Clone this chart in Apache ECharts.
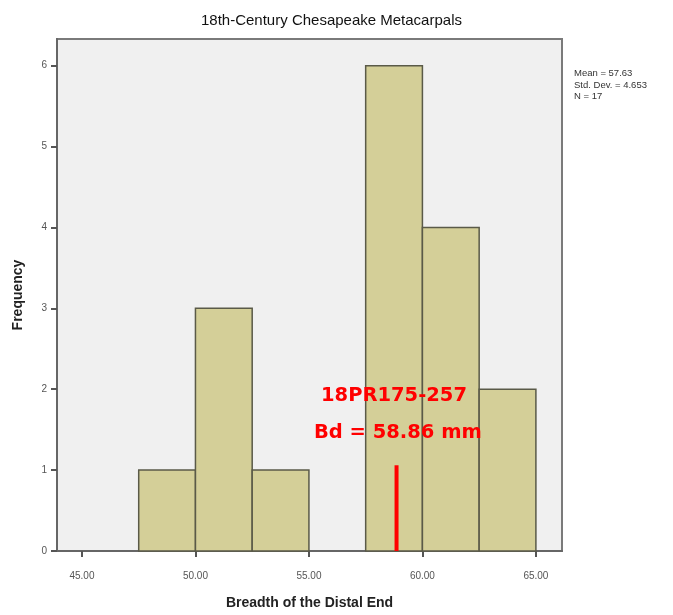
<!DOCTYPE html>
<html><head><meta charset="utf-8">
<script src="https://cdn.jsdelivr.net/npm/echarts@6/dist/echarts.min.js"></script>
<style>html,body{margin:0;padding:0;background:#fff}#c{width:673px;height:615px}</style>
</head><body><div id="c"></div>
<script>
var binStarts = [47.5, 50.0, 52.5, 57.5, 60.0, 62.5];
var binEnds = [50.0, 52.5, 55.0, 60.0, 62.5, 65.0];
var frequencies = [1, 3, 1, 6, 4, 2];
var xTicks = [45, 50, 55, 60, 65];
var yTicks = [0, 1, 2, 3, 4, 5, 6];
var markerValue = 58.86;
var markerHeight = 1.06;
var statsLines = ['Mean = 57.63', 'Std. Dev. = 4.653', 'N = 17'];
var specimenLabel = '18PR175-257';
var bdLabel = 'Bd = 58.86 mm';

var histData = binStarts.map(function (s, i) { return [s, binEnds[i], frequencies[i]]; });

var chart = echarts.init(document.getElementById('c'));
chart.setOption({
  animation: false,
  backgroundColor: '#ffffff',
  title: [{
    text: '18th-Century Chesapeake Metacarpals',
    left: 196, top: 8,
    textStyle: { fontFamily: 'Liberation Sans', fontSize: 15, fontWeight: 'normal', color: '#111' }
  }, {
    text: statsLines.join('\n'),
    left: 569, top: 63,
    textStyle: { fontFamily: 'Liberation Sans', fontSize: 9.5, fontWeight: 'normal', color: '#333', lineHeight: 11.5 }
  }],
  grid: {
    left: 57, right: 111, top: 39, bottom: 58,
    show: true, backgroundColor: '#f0f0f0', borderColor: '#7a7a7a', borderWidth: 2
  },
  xAxis: {
    type: 'value', min: 43.9, max: 66.15,
    name: 'Breadth of the Distal End', nameLocation: 'middle', nameGap: 45,
    nameTextStyle: { fontFamily: 'Liberation Sans', fontSize: 14, fontWeight: 'bold', color: '#222' },
    splitLine: { show: false },
    axisLine: { show: true, lineStyle: { color: '#666', width: 2 } },
    axisTick: { show: true, customValues: xTicks, length: 6, lineStyle: { color: '#555', width: 2 } },
    axisLabel: { customValues: xTicks, formatter: function (v) { return v.toFixed(2); },
      fontFamily: 'Liberation Sans', fontSize: 10, color: '#555', margin: 20 }
  },
  yAxis: {
    type: 'value', min: 0, max: 6.33,
    name: 'Frequency', nameLocation: 'middle', nameGap: 32, nameRotate: 90,
    nameTextStyle: { fontFamily: 'Liberation Sans', fontSize: 14, fontWeight: 'bold', color: '#222' },
    splitLine: { show: false },
    axisLine: { show: true, lineStyle: { color: '#666', width: 2 } },
    axisTick: { show: true, customValues: yTicks, length: 6, lineStyle: { color: '#555', width: 2 } },
    axisLabel: { customValues: yTicks, fontFamily: 'Liberation Sans', fontSize: 10, color: '#555', margin: 10 }
  },
  series: [{
    type: 'custom',
    data: histData,
    renderItem: function (params, api) {
      var p0 = api.coord([api.value(0), api.value(2)]);
      var p1 = api.coord([api.value(1), 0]);
      return {
        type: 'rect',
        shape: { x: p0[0], y: p0[1], width: p1[0] - p0[0], height: p1[1] - p0[1] },
        style: { fill: '#d4cf98', stroke: '#5a5a48', lineWidth: 1.5 }
      };
    },
    encode: { x: [0, 1], y: 2 }
  }, {
    type: 'line',
    data: [[markerValue, 0], [markerValue, markerHeight]],
    symbol: 'none',
    lineStyle: { color: '#ff0000', width: 4 },
    z: 5
  }],
  graphic: [{
    type: 'text', x: 321, y: 396, z: 100,
    style: { text: specimenLabel, fill: '#ff0000', fontFamily: 'DejaVu Sans', fontWeight: 'bold', fontSize: 19.5, verticalAlign: 'middle' }
  }, {
    type: 'text', x: 314, y: 433, z: 100,
    style: { text: bdLabel, fill: '#ff0000', fontFamily: 'DejaVu Sans', fontWeight: 'bold', fontSize: 19.5, verticalAlign: 'middle' }
  }]
});
</script></body></html>
